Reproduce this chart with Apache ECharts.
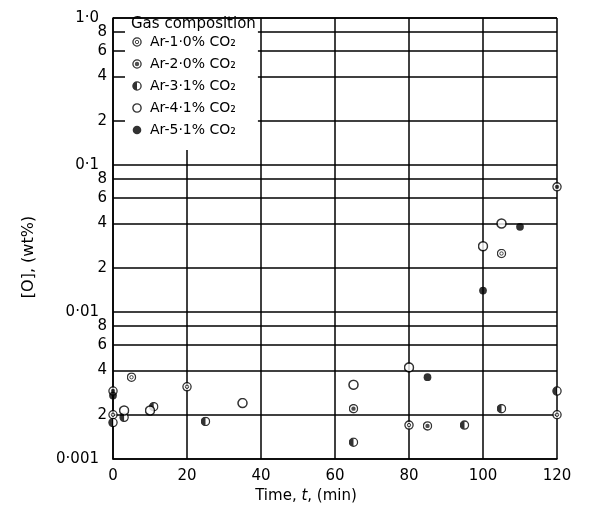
<!DOCTYPE html>
<html><head><meta charset="utf-8">
<script src="https://cdn.jsdelivr.net/npm/echarts@6/dist/echarts.min.js"></script>
<style>html,body{margin:0;padding:0;background:#fff}#c{width:589px;height:523px}</style>
</head><body><div id="c"></div>
<script>
const seriesNames = ['Ar-1·0% CO₂', 'Ar-2·0% CO₂', 'Ar-3·1% CO₂', 'Ar-4·1% CO₂', 'Ar-5·1% CO₂'];
const ar10 = [[0, 0.0020], [5, 0.0036], [20, 0.0031], [80, 0.0017], [105, 0.025], [120, 0.0020]];
const ar20 = [[0, 0.0029], [65, 0.0022], [85, 0.00168], [120, 0.071]];
const ar31 = [[0, 0.00177], [3, 0.00192], [11, 0.00227], [25, 0.0018], [65, 0.0013], [95, 0.0017], [105, 0.0022], [120, 0.0029]];
const ar41 = [[3, 0.00214], [10, 0.00214], [35, 0.0024], [65, 0.0032], [80, 0.0042], [100, 0.028], [105, 0.040]];
const ar51 = [[0, 0.0027], [85, 0.0036], [100, 0.014], [110, 0.038]];
const xTickValues = [0, 20, 40, 60, 80, 100, 120];
const yTickValues = [0.001, 0.002, 0.004, 0.006, 0.008, 0.01, 0.02, 0.04, 0.06, 0.08, 0.1, 0.2, 0.4, 0.6, 0.8, 1];
const yTickLabels = ['0·001', '2', '4', '6', '8', '0·01', '2', '4', '6', '8', '0·1', '2', '4', '6', '8', '1·0'];

function svgSym(body) {
  return 'image://data:image/svg+xml;charset=utf-8,' + encodeURIComponent(
    '<svg xmlns="http://www.w3.org/2000/svg" width="40" height="40" viewBox="0 0 20 20">' + body + '</svg>');
}
const symbols = [
  svgSym('<circle cx="10" cy="10" r="8.2" fill="#fff" stroke="#000" stroke-width="2.6"/><circle cx="10" cy="10" r="3.4" fill="#fff" stroke="#000" stroke-width="1.8"/>'),
  svgSym('<circle cx="10" cy="10" r="8.2" fill="#fff" stroke="#000" stroke-width="2.6"/><circle cx="10" cy="10" r="4.4" fill="#222"/>'),
  svgSym('<circle cx="10" cy="10" r="8.2" fill="#fff" stroke="#000" stroke-width="2.6"/><path d="M10 1.8 A8.2 8.2 0 0 0 10 18.2 Z" fill="#000"/>'),
  svgSym('<circle cx="10" cy="10" r="8.2" fill="#fff" stroke="#000" stroke-width="2.8"/>'),
  svgSym('<circle cx="10" cy="10" r="8.6" fill="#000"/>')
];
const dataSets = [ar10, ar20, ar31, ar41, ar51];
const sizes = [10, 10, 10, 11, 9];
const yMax = yTickValues[yTickValues.length - 1];
const yMaxLabel = yTickLabels[yTickLabels.length - 1];

const font = 'DejaVu Sans';
function yLabelFormatter(v) {
  const i = yTickValues.findIndex(t => Math.abs(t - v) / t < 1e-6);
  if (i < 0) return '';
  const lab = yTickLabels[i];
  return lab.length > 1 ? '{d|' + lab + '}' : lab;
}
const chart = echarts.init(document.getElementById('c'));
chart.setOption({
  backgroundColor: '#fff',
  animation: false,
  title: {
    text: 'Gas composition', left: 131, top: 17, padding: 0,
    textStyle: { fontFamily: font, fontSize: 15, fontWeight: 'normal', color: '#000' }
  },
  legend: {
    orient: 'vertical', left: 125, top: 19,
    padding: [16, 22, 13, 7],
    backgroundColor: '#fff',
    itemWidth: 10, itemHeight: 10, itemGap: 8,
    data: seriesNames,
    textStyle: { fontFamily: font, fontSize: 14, color: '#000', lineHeight: 14, padding: [0, 0, 0, 3] }
  },
  grid: { left: 113, right: 32, top: 18, bottom: 64 },
  xAxis: {
    type: 'value', min: 0, max: 120, interval: 20,
    name: 'Time, {i|t}, (min)', nameLocation: 'middle', nameGap: 25,
    nameTextStyle: { fontFamily: font, fontSize: 15, color: '#000', padding: [0, 58, 0, 0],
      rich: { i: { fontFamily: font, fontSize: 15, fontStyle: 'italic', color: '#000' } } },
    axisLine: { show: true, lineStyle: { color: '#000', width: 1.6 } },
    axisTick: { show: false },
    axisLabel: { fontFamily: font, fontSize: 15, color: '#000', margin: 10, showMinLabel: true, showMaxLabel: true },
    splitLine: { show: true, lineStyle: { color: '#000', width: 1.5 } }
  },
  yAxis: {
    type: 'log', logBase: 10, min: 0.001, max: yMax,
    name: '[O], (wt%)', nameLocation: 'middle', nameGap: 76, nameRotate: 90,
    nameTextStyle: { fontFamily: font, fontSize: 16, color: '#000', padding: [0, 37, 0, 0] },
    axisLine: { show: true, lineStyle: { color: '#000', width: 1.6 } },
    axisTick: { show: false, customValues: yTickValues },
    axisLabel: {
      customValues: yTickValues,
      showMinLabel: true, showMaxLabel: false, hideOverlap: false,
      fontFamily: font, fontSize: 15, color: '#000', margin: 6,
      formatter: yLabelFormatter,
      rich: { d: { fontFamily: font, fontSize: 15, color: '#000', padding: [0, 8, 0, 0] } }
    },
    splitLine: { show: true, lineStyle: { color: '#000', width: 1.5 } }
  },
  series: dataSets.map((d, k) => {
    const s = {
      name: seriesNames[k], type: 'scatter', data: d,
      symbol: symbols[k], symbolSize: sizes[k], z: 5
    };
    if (k === 0) {
      s.markLine = {
        silent: true, symbol: 'none', animation: false,
        lineStyle: { color: '#000', width: 1.5, type: 'solid' },
        label: { show: true, position: 'start', distance: 14, formatter: yMaxLabel,
          fontFamily: font, fontSize: 15, color: '#000' },
        data: [{ yAxis: yMax }]
      };
    }
    return s;
  })
});
</script></body></html>
